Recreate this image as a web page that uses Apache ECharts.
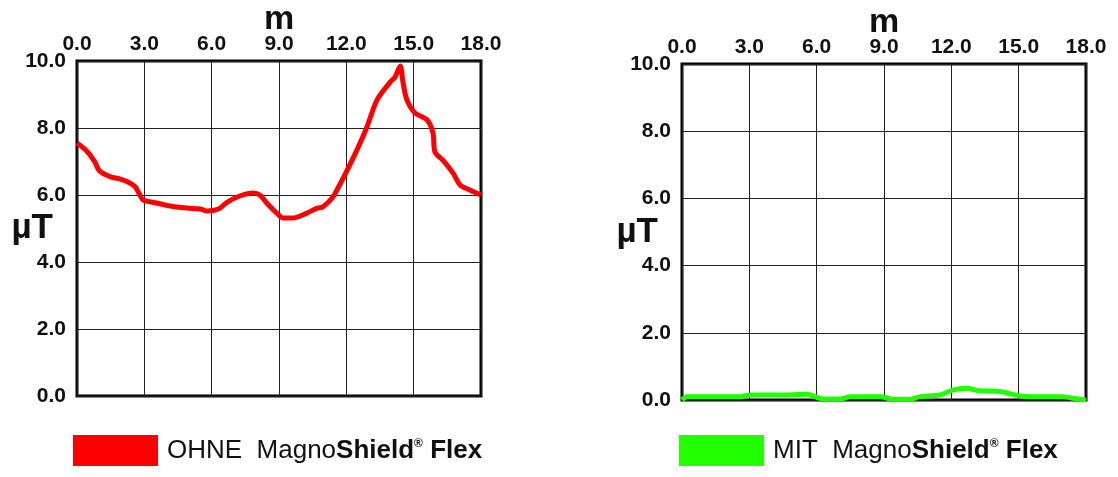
<!DOCTYPE html>
<html>
<head>
<meta charset="utf-8">
<script src="https://cdn.jsdelivr.net/npm/echarts@6/dist/echarts.min.js"></script>
<style>
html, body { margin: 0; padding: 0; background: #fff; }
#chart { width: 1118px; height: 477px; }
</style>
</head>
<body>
<div id="chart"></div>
<script>
// distance along the cable (m) and field strength (µT)
const ohneDist = [0, 0.45, 0.8, 1.0, 1.5, 1.9, 2.35, 2.6, 2.8, 2.95, 3.55, 4.15, 4.9, 5.5, 5.8, 6.3, 6.7, 7.25, 7.85, 8.15,
    8.45, 8.9, 9.2, 9.6, 10.25, 10.7, 10.95, 11.4, 11.7, 12.0, 12.47, 12.9, 13.37, 13.95, 14.17, 14.4, 14.53, 14.7,
    15.06, 15.6, 15.86, 15.95, 16.3, 16.75, 17.07, 17.5, 17.9, 18.0];
const ohneField = [7.55, 7.3, 6.98, 6.72, 6.54, 6.48, 6.36, 6.24, 6.0, 5.85, 5.76, 5.67, 5.61, 5.58, 5.52, 5.58, 5.79, 5.97, 6.06, 6.0,
    5.76, 5.46, 5.31, 5.31, 5.46, 5.61, 5.64, 5.94, 6.3, 6.69, 7.34, 8.0, 8.84, 9.37, 9.52, 9.85, 9.34, 8.84,
    8.45, 8.24, 7.85, 7.28, 7.04, 6.66, 6.3, 6.15, 6.03, 6.0];

const mitDist = [0, 0.22, 2.6, 3.04, 4.67, 5.57, 6.01, 6.29, 7.05, 7.5, 8.84, 9.4, 10.16, 10.61, 11.5, 12.08, 12.7, 13.15,
    14.17, 15.06, 15.64, 16.98, 17.43, 18.0];
const mitField = [0, 0.1, 0.1, 0.15, 0.15, 0.17, 0.08, 0.03, 0.03, 0.1, 0.1, 0.02, 0.02, 0.1, 0.15, 0.3, 0.35, 0.28,
    0.25, 0.12, 0.1, 0.1, 0.05, 0];

const seriesNames = ['OHNE', 'MIT'];
const legendPrefix = ['OHNE  Magno', 'MIT  Magno'];
const lineColors = ['#ff0000', '#22ff00'];

const font = 'Liberation Sans, Arial, sans-serif';
const chart = echarts.init(document.getElementById('chart'));

function pairs(xs, ys) {
    return xs.map((x, i) => [x, ys[i]]);
}

function xAxisFor(idx) {
    return {
        type: 'value', gridIndex: idx, position: 'top',
        min: 0, max: 18, interval: 3,
        name: 'm', nameLocation: 'middle', nameGap: 24, nameMoveOverlap: false,
        nameTextStyle: { fontSize: 34, fontWeight: 'bold', color: '#111', fontFamily: font },
        axisLine: { show: false },
        axisTick: { show: false },
        axisLabel: {
            formatter: v => v.toFixed(1), fontSize: 21, fontWeight: 'bold',
            color: '#111', fontFamily: font, margin: 6
        },
        splitLine: { lineStyle: { color: '#222', width: 1 } }
    };
}

function yAxisFor(idx) {
    return {
        type: 'value', gridIndex: idx,
        min: 0, max: 10, interval: 2,
        name: 'µT', nameLocation: 'middle', nameRotate: 0, nameGap: 24, nameMoveOverlap: false,
        nameTextStyle: { fontSize: 35, fontWeight: 'bold', color: '#111', fontFamily: font },
        axisLine: { show: false },
        axisTick: { show: false },
        axisLabel: {
            formatter: v => v.toFixed(1), fontSize: 21, fontWeight: 'bold',
            color: '#111', fontFamily: font, margin: 11
        },
        splitLine: { lineStyle: { color: '#222', width: 1 } }
    };
}

function legendFor(idx, left) {
    return {
        data: [{ name: seriesNames[idx], icon: 'rect' }],
        left: left, top: 430,
        itemWidth: 85, itemHeight: 31,
        selectedMode: false,
        formatter: () => '{a|' + legendPrefix[idx] + '}{b|Shield}{c|®}{b| Flex}',
        textStyle: {
            padding: [0, 0, 0, 4],
            rich: {
                a: { fontSize: 26, color: '#111', fontFamily: font },
                b: { fontSize: 26, color: '#111', fontFamily: font, fontWeight: 'bold' },
                c: { fontSize: 12, color: '#111', fontFamily: font, fontWeight: 'bold', verticalAlign: 'top' }
            }
        }
    };
}

const option = {
    backgroundColor: '#ffffff',
    animation: false,
    grid: [
        { left: 77, top: 61, width: 404, height: 335, show: true, borderColor: '#000', borderWidth: 3, outerBoundsMode: 'none' },
        { left: 682, top: 64, width: 404, height: 336, show: true, borderColor: '#000', borderWidth: 3, outerBoundsMode: 'none' }
    ],
    xAxis: [xAxisFor(0), xAxisFor(1)],
    yAxis: [yAxisFor(0), yAxisFor(1)],
    legend: [legendFor(0, 68), legendFor(1, 674)],
    series: [
        {
            name: seriesNames[0], type: 'line', xAxisIndex: 0, yAxisIndex: 0,
            data: pairs(ohneDist, ohneField), smooth: 0.3, showSymbol: false, clip: false,
            color: lineColors[0], lineStyle: { color: lineColors[0], width: 5 }
        },
        {
            name: seriesNames[1], type: 'line', xAxisIndex: 1, yAxisIndex: 1,
            data: pairs(mitDist, mitField), smooth: 0.3, showSymbol: false, clip: false,
            color: lineColors[1], lineStyle: { color: lineColors[1], width: 5 }
        }
    ]
};

chart.setOption(option);
</script>
</body>
</html>
